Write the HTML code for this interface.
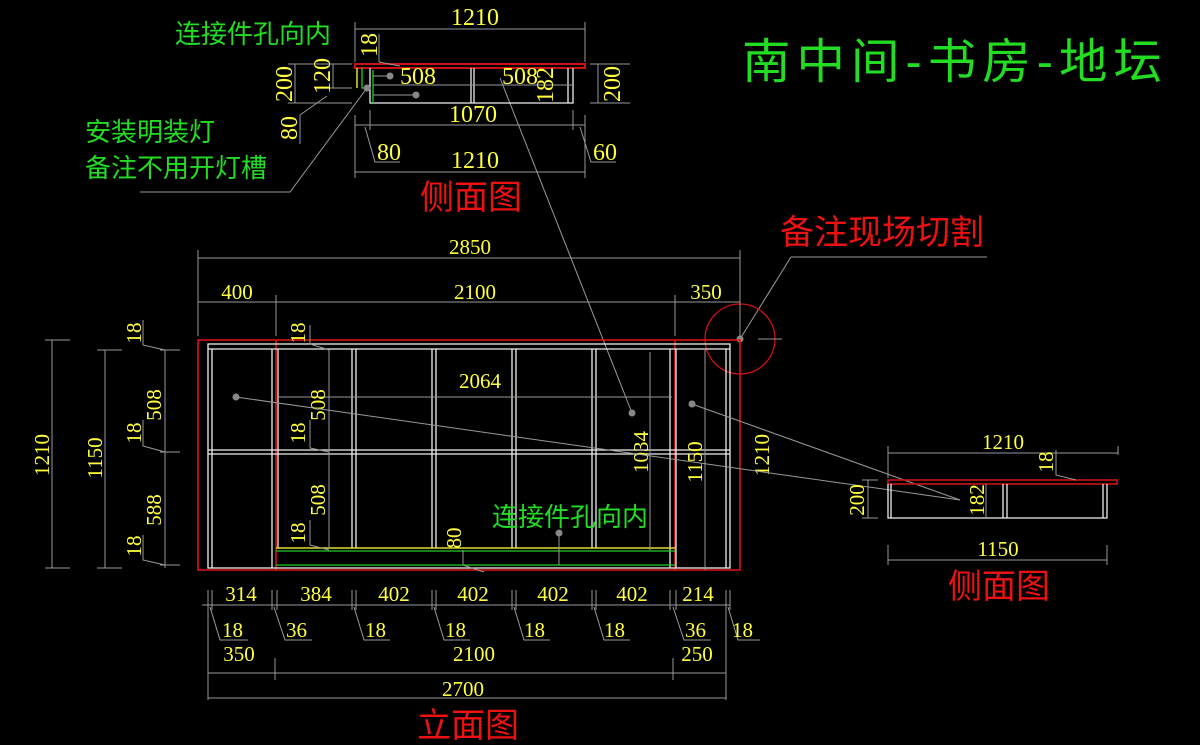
<!DOCTYPE html>
<html><head><meta charset="utf-8"><style>
html,body{margin:0;padding:0;background:#000;}
svg{display:block}
text{font-family:"Liberation Serif","Noto Serif CJK SC",serif;}
.y{fill:#ffff40;font-size:21px}
.c{text-anchor:middle}
.t{font-size:24px}
.g{fill:#22dd22;font-family:"Liberation Sans","Noto Sans CJK SC",sans-serif}
.r{fill:#ee1111;font-family:"Liberation Sans","Noto Sans CJK SC",sans-serif}
.d{stroke:#999;stroke-width:1;fill:none}
.w{stroke:#eee;stroke-width:1.3;fill:none}
.rd{stroke:#dd1111;stroke-width:1.6;fill:none}
</style></head><body>
<svg width="1200" height="745" viewBox="0 0 1200 745" xmlns="http://www.w3.org/2000/svg">
<rect width="1200" height="745" fill="#000"/>
<text x="742" y="78" class="g" font-size="48" letter-spacing="6" textLength="426" lengthAdjust="spacingAndGlyphs">南中间-书房-地坛</text>

<!-- TOP SIDE VIEW -->
<text x="175" y="43" class="g" font-size="26">连接件孔向内</text>
<text x="85" y="141" class="g" font-size="26">安装明装灯</text>
<text x="85" y="177" class="g" font-size="26">备注不用开灯槽</text>
<polyline class="d" points="140,192 290,192 367,88"/>
<line class="d" x1="500" y1="78" x2="632" y2="413"/>
<line class="d" x1="355" y1="29" x2="585" y2="29"/><line class="d" x1="355" y1="22" x2="355" y2="62"/><line class="d" x1="585" y1="22" x2="585" y2="62"/>
<text x="475" y="25" class="y c t">1210</text>
<rect x="355" y="64" width="230" height="4" fill="none" stroke="#cc1111" stroke-width="2"/>
<polyline class="w" points="370,68 370,103 573,103 573,68"/>
<line class="w" x1="568" y1="68" x2="568" y2="103"/>
<line class="w" x1="471" y1="68" x2="471" y2="103"/><line class="w" x1="474" y1="68" x2="474" y2="103"/>
<line class="d" x1="373" y1="85" x2="573" y2="85"/>
<line x1="357" y1="68" x2="357" y2="88" stroke="#dddd33" stroke-width="1.5"/>
<polyline points="362,68 362,88 370,88" stroke="#22cc22" fill="none" stroke-width="1.3"/>
<line x1="373" y1="70" x2="373" y2="103" stroke="#22cc22" stroke-width="1.3"/>
<line class="d" x1="373" y1="76" x2="390" y2="76"/><line class="d" x1="373" y1="95" x2="416" y2="95"/>
<circle cx="390" cy="76" r="3.5" fill="#888"/><circle cx="416" cy="95" r="3.5" fill="#888"/><circle cx="367" cy="88" r="3.5" fill="#888"/>
<polyline class="d" points="379,34 379,62 400,66"/>
<text class="y c t" transform="translate(377,45) rotate(-90)">18</text>
<text x="418" y="84" class="y c t">508</text><text x="520" y="84" class="y c t">508</text>
<text class="y c t" transform="translate(553,85) rotate(-90)">182</text>
<line class="d" x1="295" y1="64" x2="295" y2="103"/><line class="d" x1="288" y1="64" x2="352" y2="64"/><line class="d" x1="288" y1="103" x2="352" y2="103"/>
<text class="y c t" transform="translate(292,84) rotate(-90)">200</text>
<line class="d" x1="333" y1="64" x2="333" y2="88"/><line class="d" x1="325" y1="88" x2="352" y2="88"/>
<text class="y c t" transform="translate(330,76) rotate(-90)">120</text>
<polyline class="d" points="327,96 300,115 300,144"/>
<text class="y c t" transform="translate(297,128) rotate(-90)">80</text>
<line class="d" x1="598" y1="64" x2="598" y2="103"/><line class="d" x1="590" y1="64" x2="630" y2="64"/><line class="d" x1="590" y1="103" x2="630" y2="103"/>
<text class="y c t" transform="translate(620,84) rotate(-90)">200</text>
<line class="d" x1="355" y1="125" x2="585" y2="125"/><line class="d" x1="355" y1="115" x2="355" y2="178"/><line class="d" x1="370" y1="110" x2="370" y2="130"/><line class="d" x1="573" y1="110" x2="573" y2="130"/><line class="d" x1="585" y1="115" x2="585" y2="178"/>
<text x="473" y="122" class="y c t">1070</text>
<polyline class="d" points="365,127 375,162 400,162"/><text x="377" y="160" class="y t">80</text>
<polyline class="d" points="580,127 591,162 616,162"/><text x="593" y="160" class="y t">60</text>
<line class="d" x1="355" y1="172" x2="585" y2="172"/>
<text x="475" y="168" class="y c t">1210</text>
<text x="420" y="209" class="r" font-size="34">侧面图</text>

<!-- cut note -->
<text x="780" y="244" class="r" font-size="34">备注现场切割</text>
<polyline class="d" points="740,339 791,257 987,257"/>
<circle cx="740" cy="339" r="35" fill="none" stroke="#cc1111" stroke-width="1.3"/>
<circle cx="740" cy="339" r="3.5" fill="#888"/>
<line class="d" x1="758" y1="339" x2="782" y2="339"/>

<!-- top dims main -->
<line class="d" x1="198" y1="258" x2="740" y2="258"/><line class="d" x1="198" y1="250" x2="198" y2="336"/><line class="d" x1="740" y1="250" x2="740" y2="336"/>
<text x="470" y="254" class="y c">2850</text>
<line class="d" x1="198" y1="302" x2="740" y2="302"/><line class="d" x1="276" y1="295" x2="276" y2="336"/><line class="d" x1="675" y1="295" x2="675" y2="336"/>
<text x="237" y="299" class="y c">400</text><text x="475" y="299" class="y c">2100</text><text x="706" y="299" class="y c">350</text>

<!-- main elevation -->
<rect x="198" y="340" width="542" height="230" class="rd"/>
<line class="rd" x1="276" y1="340" x2="276" y2="570"/><line class="rd" x1="675" y1="340" x2="675" y2="570"/>
<rect x="208" y="344" width="522" height="224" class="w"/>
<line class="w" x1="208" y1="349" x2="730" y2="349"/>
<line class="w" x1="208" y1="450" x2="730" y2="450"/><line class="w" x1="208" y1="454" x2="730" y2="454"/>
<line class="w" x1="212" y1="349" x2="212" y2="568"/><line class="w" x1="726" y1="349" x2="726" y2="568"/>
<line class="w" x1="272" y1="349" x2="272" y2="568"/><line class="w" x1="278" y1="349" x2="278" y2="548"/>
<line class="w" x1="352" y1="349" x2="352" y2="548"/><line class="w" x1="356" y1="349" x2="356" y2="548"/>
<line class="w" x1="432" y1="349" x2="432" y2="548"/><line class="w" x1="436" y1="349" x2="436" y2="548"/>
<line class="w" x1="512" y1="349" x2="512" y2="548"/><line class="w" x1="516" y1="349" x2="516" y2="548"/>
<line class="w" x1="592" y1="349" x2="592" y2="548"/><line class="w" x1="596" y1="349" x2="596" y2="548"/>
<line class="w" x1="670" y1="349" x2="670" y2="568"/><line class="w" x1="676" y1="349" x2="676" y2="568"/>
<line x1="276" y1="548" x2="675" y2="548" stroke="#dddd33" stroke-width="1.5"/>
<line x1="276" y1="551" x2="675" y2="551" stroke="#22cc22" stroke-width="1.3"/>
<line x1="276" y1="565" x2="675" y2="565" stroke="#22cc22" stroke-width="1.3"/>
<line class="d" x1="277" y1="397" x2="672" y2="397"/><text x="480" y="388" class="y c">2064</text>
<line class="d" x1="329" y1="350" x2="329" y2="548"/>
<polyline class="d" points="310,325 310,344 329,350"/><text class="y c" transform="translate(305,333) rotate(-90)">18</text>
<text class="y c" transform="translate(325,405) rotate(-90)">508</text>
<polyline class="d" points="310,420 310,448 329,452"/><text class="y c" transform="translate(305,433) rotate(-90)">18</text>
<text class="y c" transform="translate(325,500) rotate(-90)">508</text>
<polyline class="d" points="310,520 310,545 329,550"/><text class="y c" transform="translate(305,533) rotate(-90)">18</text>
<line class="d" x1="650" y1="352" x2="650" y2="550"/><text class="y c" transform="translate(648,452) rotate(-90)">1034</text>
<line class="d" x1="705" y1="350" x2="705" y2="570"/><text class="y c" transform="translate(702,462) rotate(-90)">1150</text>
<text class="y c" transform="translate(769,455) rotate(-90)">1210</text>
<polyline class="d" points="463,550 463,565 484,572"/><text class="y c" transform="translate(461,538) rotate(-90)">80</text>
<line class="d" x1="236" y1="397" x2="960" y2="500"/><circle cx="236" cy="397" r="3.5" fill="#888"/>
<line class="d" x1="692" y1="404" x2="960" y2="500"/><circle cx="692" cy="404" r="3.5" fill="#888"/>
<circle cx="632" cy="413" r="3.5" fill="#888"/>
<text x="492" y="526" class="g" font-size="26">连接件孔向内</text>
<line class="d" x1="559" y1="533" x2="559" y2="565"/><circle cx="559" cy="533" r="3.5" fill="#888"/>

<!-- left dims -->
<line class="d" x1="52" y1="340" x2="52" y2="568"/><line class="d" x1="45" y1="340" x2="70" y2="340"/><line class="d" x1="45" y1="568" x2="70" y2="568"/>
<text class="y c" transform="translate(49,455) rotate(-90)">1210</text>
<line class="d" x1="105" y1="350" x2="105" y2="568"/><line class="d" x1="97" y1="350" x2="122" y2="350"/><line class="d" x1="97" y1="568" x2="122" y2="568"/>
<text class="y c" transform="translate(102,458) rotate(-90)">1150</text>
<line class="d" x1="165" y1="350" x2="165" y2="568"/>
<line class="d" x1="160" y1="350" x2="180" y2="350"/><line class="d" x1="160" y1="452" x2="180" y2="452"/><line class="d" x1="160" y1="565" x2="180" y2="565"/>
<polyline class="d" points="143,320 143,345 165,350"/><text class="y c" transform="translate(141,333) rotate(-90)">18</text>
<text class="y c" transform="translate(161,405) rotate(-90)">508</text>
<polyline class="d" points="143,420 143,446 165,452"/><text class="y c" transform="translate(141,433) rotate(-90)">18</text>
<text class="y c" transform="translate(161,510) rotate(-90)">588</text>
<polyline class="d" points="143,535 143,560 165,565"/><text class="y c" transform="translate(141,546) rotate(-90)">18</text>

<!-- bottom dims -->
<line class="d" x1="202" y1="605" x2="730" y2="605"/>
<g class="d">
<line x1="208" y1="590" x2="208" y2="700"/><line x1="212" y1="590" x2="212" y2="610"/>
<line x1="272" y1="590" x2="272" y2="610"/><line x1="277" y1="590" x2="277" y2="610"/>
<line x1="352" y1="590" x2="352" y2="610"/><line x1="356" y1="590" x2="356" y2="610"/>
<line x1="432" y1="590" x2="432" y2="610"/><line x1="436" y1="590" x2="436" y2="610"/>
<line x1="512" y1="590" x2="512" y2="610"/><line x1="516" y1="590" x2="516" y2="610"/>
<line x1="592" y1="590" x2="592" y2="610"/><line x1="596" y1="590" x2="596" y2="610"/>
<line x1="670" y1="590" x2="670" y2="610"/><line x1="676" y1="590" x2="676" y2="610"/>
<line x1="726" y1="590" x2="726" y2="700"/><line x1="730" y1="590" x2="730" y2="610"/>
</g>
<text x="241" y="601" class="y c">314</text><text x="316" y="601" class="y c">384</text><text x="394" y="601" class="y c">402</text><text x="473" y="601" class="y c">402</text><text x="553" y="601" class="y c">402</text><text x="632" y="601" class="y c">402</text><text x="698" y="601" class="y c">214</text>
<g class="d">
<polyline points="210,607 220,640 248,640"/><polyline points="274,607 285,640 312,640"/><polyline points="354,607 364,640 390,640"/><polyline points="434,607 444,640 470,640"/><polyline points="514,607 524,640 550,640"/><polyline points="594,607 604,640 630,640"/><polyline points="673,607 684,640 711,640"/><polyline points="728,607 738,640 760,640"/>
</g>
<text x="222" y="637" class="y">18</text><text x="286" y="637" class="y">36</text><text x="365" y="637" class="y">18</text><text x="445" y="637" class="y">18</text><text x="524" y="637" class="y">18</text><text x="604" y="637" class="y">18</text><text x="685" y="637" class="y">36</text><text x="732" y="637" class="y">18</text>
<line class="d" x1="208" y1="673" x2="726" y2="673"/><line class="d" x1="275" y1="658" x2="275" y2="680"/><line class="d" x1="673" y1="658" x2="673" y2="680"/>
<text x="239" y="661" class="y c">350</text><text x="474" y="661" class="y c">2100</text><text x="697" y="661" class="y c">250</text>
<line class="d" x1="208" y1="698" x2="726" y2="698"/>
<text x="463" y="696" class="y c">2700</text>
<text x="417" y="737" class="r" font-size="34">立面图</text>

<!-- right side view -->
<line class="d" x1="888" y1="453" x2="1118" y2="453"/><line class="d" x1="888" y1="446" x2="888" y2="478"/><line class="d" x1="1118" y1="446" x2="1118" y2="455"/>
<text x="1003" y="449" class="y c">1210</text>
<rect x="888" y="480" width="229" height="4" fill="none" stroke="#cc1111" stroke-width="1.6"/>
<polyline class="w" points="888,484 888,518 1107,518 1107,484"/>
<line class="w" x1="891" y1="484" x2="891" y2="518"/><line class="w" x1="1103" y1="484" x2="1103" y2="518"/>
<line class="w" x1="1003" y1="484" x2="1003" y2="518"/><line class="w" x1="1007" y1="484" x2="1007" y2="518"/>
<line class="d" x1="868" y1="480" x2="868" y2="518"/><line class="d" x1="862" y1="480" x2="878" y2="480"/><line class="d" x1="862" y1="518" x2="878" y2="518"/>
<text class="y c" transform="translate(864,500) rotate(-90)">200</text>
<line class="d" x1="986" y1="484" x2="986" y2="518"/><text class="y c" transform="translate(984,500) rotate(-90)">182</text>
<polyline class="d" points="1056,450 1056,475 1076,480"/><text class="y c" transform="translate(1053,462) rotate(-90)">18</text>
<line class="d" x1="888" y1="560" x2="1107" y2="560"/><line class="d" x1="888" y1="545" x2="888" y2="565"/><line class="d" x1="1107" y1="545" x2="1107" y2="565"/>
<text x="998" y="556" class="y c">1150</text>
<text x="948" y="598" class="r" font-size="34">侧面图</text>
</svg>
</body></html>
